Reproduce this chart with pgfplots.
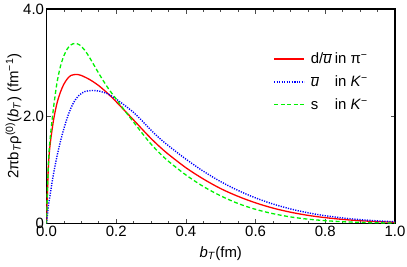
\documentclass[border=0pt]{standalone}
\usepackage{pgfplots}
\pgfplotsset{compat=1.18}
\usepackage{pgfplotstable}
\usepackage{fontspec}
\setmainfont{Liberation Sans}
\definecolor{cred}{rgb}{1,0,0}
\definecolor{cblue}{rgb}{0,0,1}
\definecolor{cgreen}{rgb}{0,0.95,0}
\pgfplotstableread{
x y
0 0
0.005 1.00
0.01 1.45
0.02 1.92
0.03 2.24
0.04 2.45
0.05 2.60
0.06 2.70
0.07 2.76
0.085 2.78
0.10 2.76
0.125 2.68
0.15 2.57
0.175 2.43
0.20 2.27
0.225 2.10
0.25 1.93
0.275 1.755
0.30 1.585
0.325 1.43
0.35 1.29
0.40 1.04
0.45 0.83
0.50 0.65
0.55 0.505
0.60 0.385
0.65 0.287
0.70 0.211
0.75 0.152
0.80 0.109
0.85 0.076
0.90 0.052
0.95 0.035
1.00 0.0235
}\tabred
\pgfplotstableread{
x y
0 0
0.005 0.30
0.01 0.52
0.02 0.92
0.03 1.25
0.04 1.53
0.05 1.77
0.06 1.98
0.07 2.15
0.08 2.28
0.095 2.40
0.11 2.46
0.13 2.48
0.15 2.47
0.175 2.42
0.20 2.32
0.225 2.20
0.25 2.07
0.275 1.91
0.30 1.74
0.325 1.585
0.35 1.45
0.40 1.20
0.45 0.975
0.50 0.78
0.55 0.615
0.60 0.477
0.65 0.363
0.70 0.272
0.75 0.200
0.80 0.145
0.85 0.103
0.90 0.072
0.95 0.049
1.00 0.033
}\tabblue
\pgfplotstableread{
x y
0 0
0.005 1.05
0.01 1.55
0.02 2.15
0.03 2.62
0.04 2.93
0.05 3.13
0.06 3.26
0.07 3.33
0.082 3.36
0.095 3.33
0.11 3.23
0.125 3.08
0.15 2.80
0.175 2.54
0.20 2.32
0.225 2.10
0.25 1.89
0.275 1.68
0.30 1.48
0.325 1.31
0.35 1.16
0.40 0.905
0.45 0.69
0.50 0.515
0.55 0.372
0.60 0.264
0.65 0.183
0.70 0.123
0.75 0.081
0.80 0.053
0.85 0.033
0.90 0.021
0.95 0.013
1.00 0.0076
}\tabgreen
\begin{document}
\begin{tikzpicture}
\begin{axis}[
  scale only axis, width=348.5bp, height=214.5bp,
  xmin=0, xmax=1, ymin=0, ymax=4,
  axis line style={line width=1.3bp},
  xtick={0,0.2,0.4,0.6,0.8,1.0},
  xticklabels={0.0,0.2,0.4,0.6,0.8,1.0},
  minor x tick num=3,
  ytick={0,2,4}, yticklabels={0,2.0,4.0},
  major tick length=4.5bp, minor tick length=2.5bp,
  every tick/.style={black!70, line width=0.6bp},
  tick label style={font=\fontsize{15}{17}\selectfont},
  xticklabel style={yshift=1bp},
  yticklabel style={xshift=1bp},
  /pgf/number format/assume math mode=true,
  xlabel={\textit{b}\textsubscript{\textit{T}}(fm)},
  ylabel={2πb\textsubscript{\textit{T}}ρ\textsuperscript{(0)}(\textit{b}\textsubscript{\textit{T}}) (fm\textsuperscript{−1})},
  label style={font=\fontsize{15}{17}\selectfont},
  xlabel style={yshift=-3bp},
  ylabel style={yshift=-5bp},
  legend cell align=left,
  legend style={draw=none, fill=none, font=\fontsize{15}{17}\selectfont,
    at={(rel axis cs:0.642,0.815)}, anchor=north west,
    row sep=6.5bp},
  legend image code/.code={\draw[#1] plot coordinates {(0bp,0bp) (30bp,0bp)};},
]
\addplot[color=cred, line width=1.3bp, smooth] table {\tabred};
\addlegendentry{\hspace{4bp}\makebox[24bp][l]{d/\ensuremath{\overline{\mbox{\textit{u}}}}}in π\textsuperscript{−}}
\addplot[color=cblue, line width=1.4bp, smooth, dash pattern=on 1.2bp off 1.3bp] table {\tabblue};
\addlegendentry{\hspace{4bp}\makebox[24bp][l]{\ensuremath{\overline{\mbox{\textit{u}}}}}in \textit{K}\textsuperscript{−}}
\addplot[color=cgreen, line width=1.3bp, smooth, dash pattern=on 4bp off 2.5bp] table {\tabgreen};
\addlegendentry{\hspace{4bp}\makebox[24bp][l]{s}in \textit{K}\textsuperscript{−}}
\coordinate (SW) at (rel axis cs:0,0);
\coordinate (NE) at (rel axis cs:1,1);
\end{axis}
\pgfresetboundingbox
\path ([shift={(-46.5bp,-43.5bp)}]SW) rectangle ([shift={(12bp,9bp)}]NE);
\end{tikzpicture}
\end{document}
